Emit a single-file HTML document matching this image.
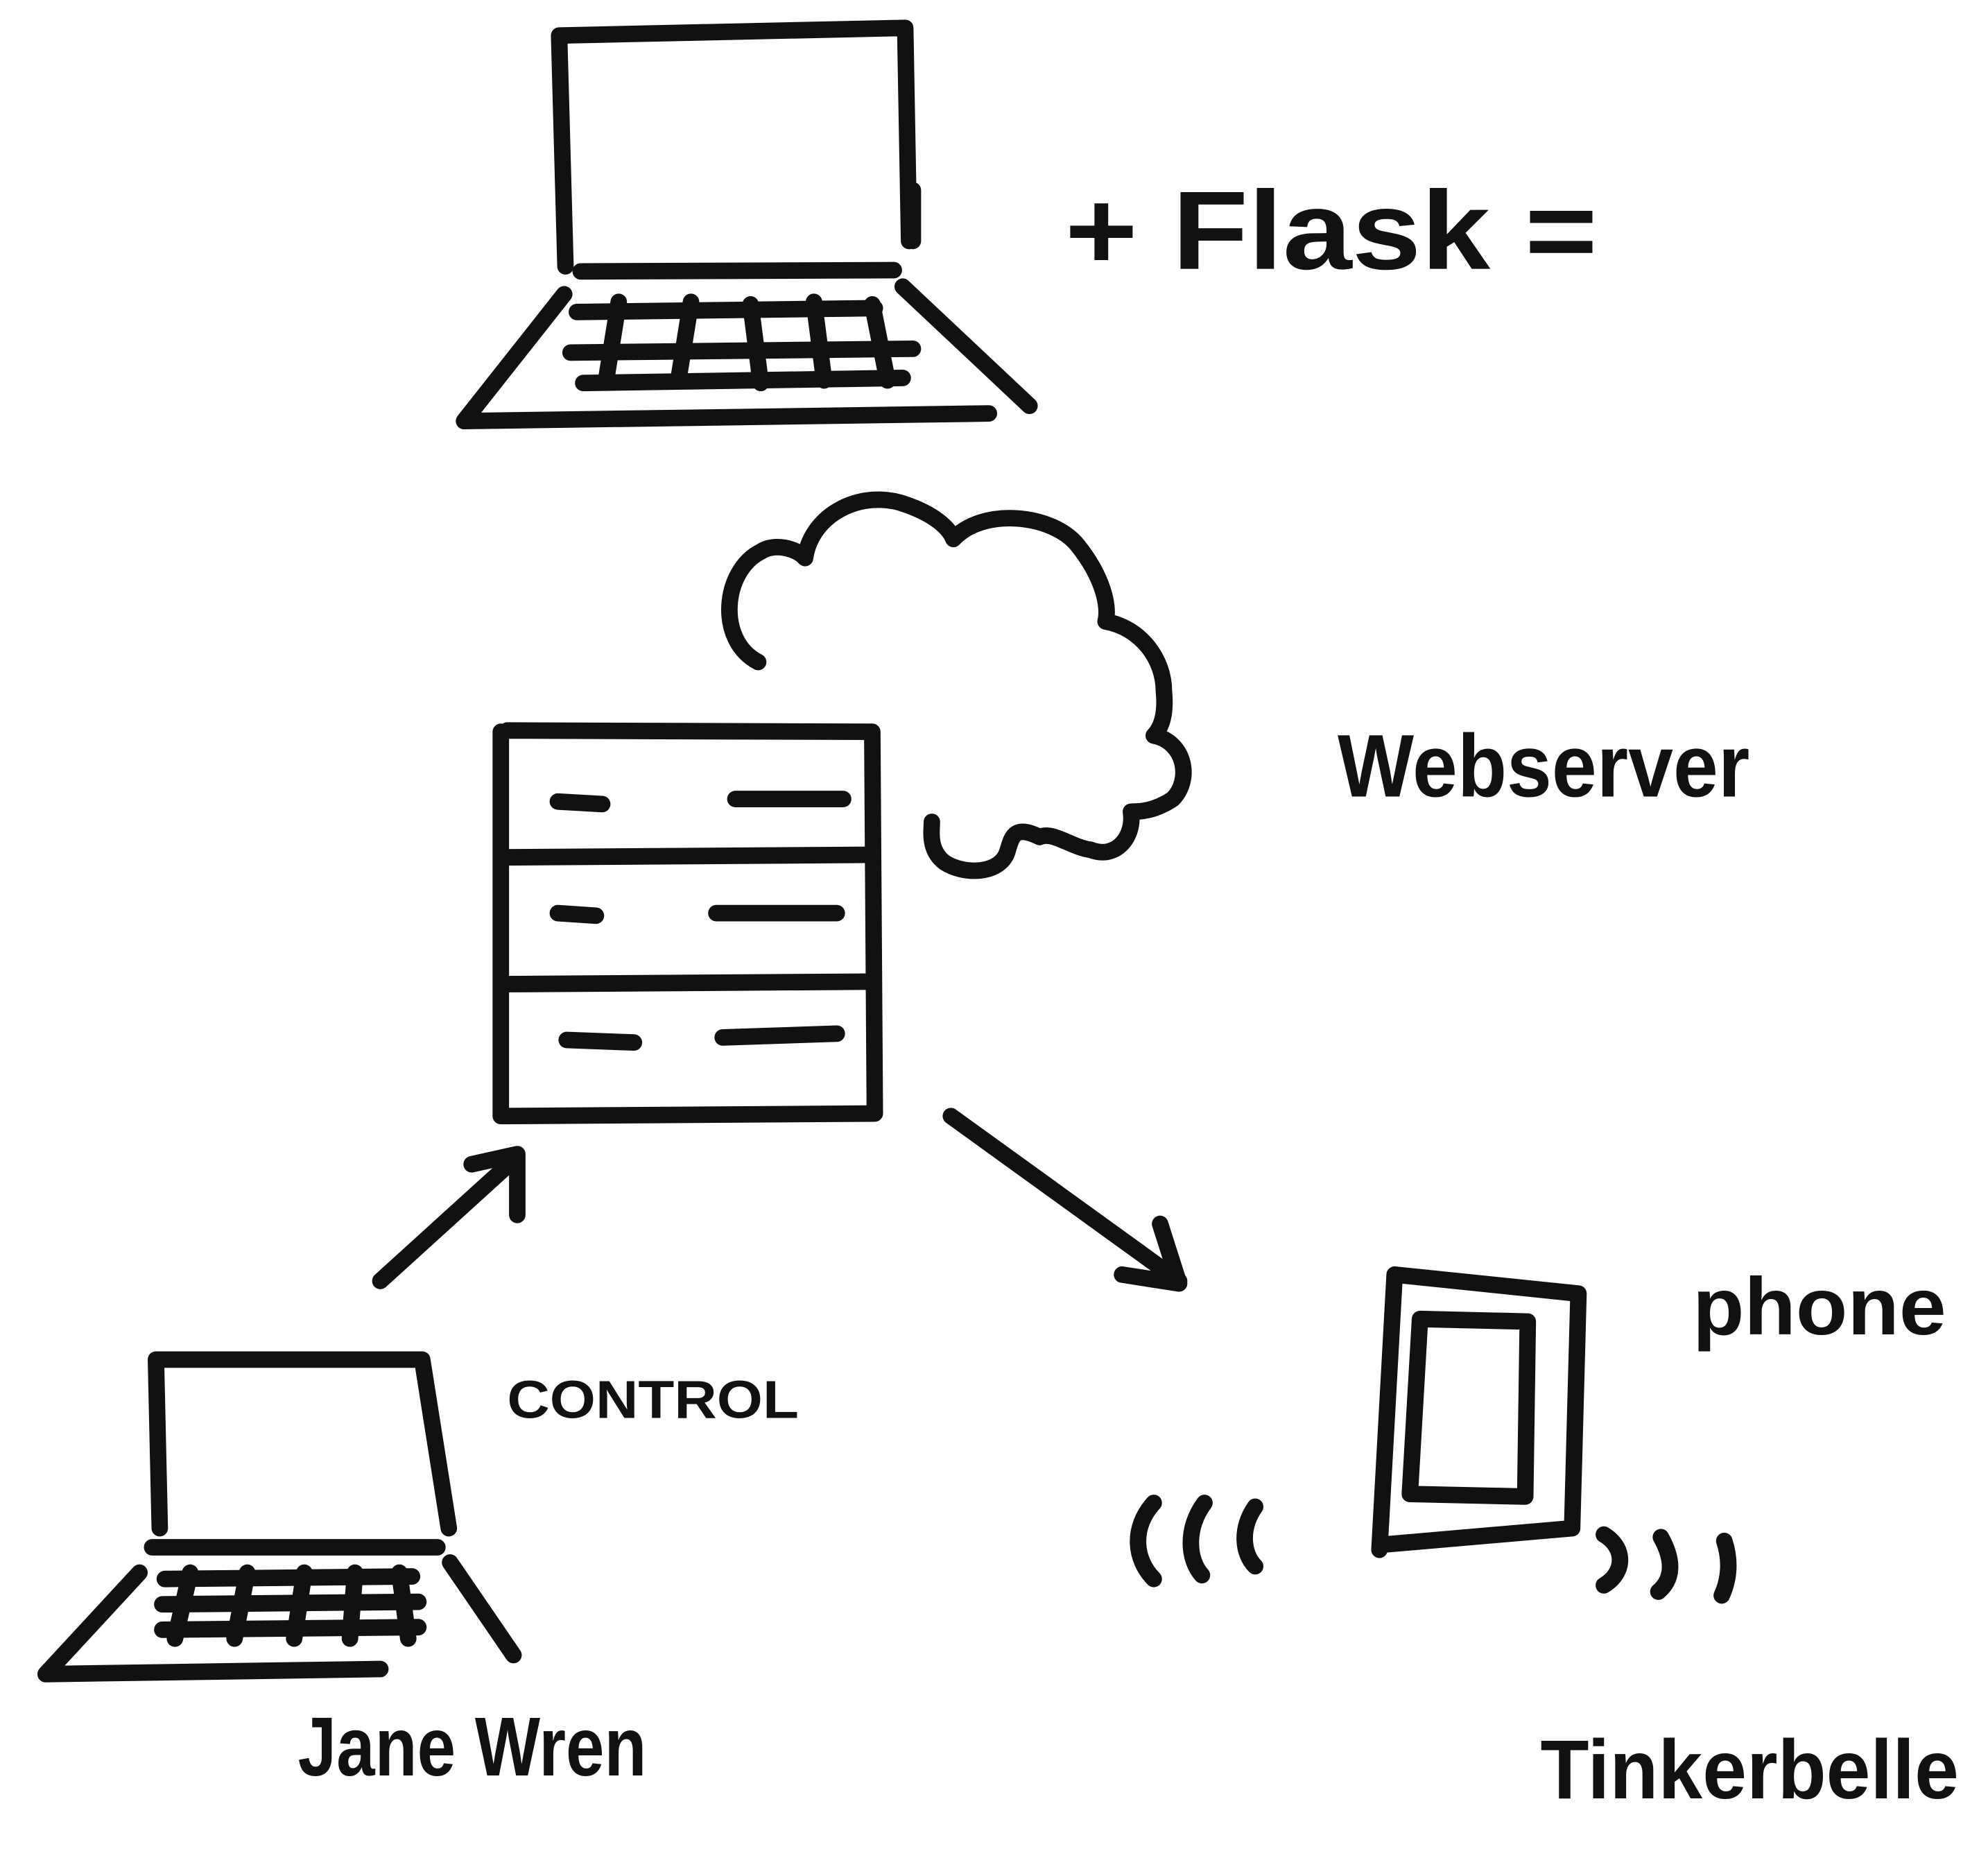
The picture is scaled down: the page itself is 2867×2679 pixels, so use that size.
<!DOCTYPE html>
<html><head><meta charset="utf-8"><style>
html,body{margin:0;padding:0;background:#fff;}
svg{display:block;}
text{font-family:"Liberation Sans Narrow","Liberation Sans",sans-serif;font-weight:bold;fill:#111;}
</style></head><body>
<svg width="2867" height="2679" viewBox="0 0 1568 1465" preserveAspectRatio="none" xmlns="http://www.w3.org/2000/svg">
<rect width="1568" height="1465" fill="#fff"/>
<g fill="none" stroke="#111" stroke-width="13" stroke-linecap="round" stroke-linejoin="round">
<path d="M446 210 L441 28 L714 22 L717 190"/>
<path d="M720 150 L720 190"/>
<path d="M458 214 L705 213"/>
<path d="M445 232 L366 332 L780 326"/>
<path d="M712 226 L812 320"/>
<path d="M455 246 L690 243"/>
<path d="M450 278 L720 275"/>
<path d="M460 302 L712 298"/>
<path d="M488 238 L478 300 M545 238 L535 300 M592 240 L600 302 M642 238 L650 300 M688 240 L700 300"/>
<path d="M598 522 C565 505 570 450 600 435 C610 428 628 432 635 440 C640 405 680 385 715 398 C735 405 748 415 752 425 C775 400 830 405 850 430 C870 455 875 478 872 490 C900 495 918 520 918 545 C920 565 915 575 910 580 C935 585 940 615 925 630 C910 640 898 640 892 640 C895 660 880 678 860 670 C845 668 830 655 820 660 C800 650 798 660 795 670 C790 690 760 690 745 680 C732 670 735 655 735 648"/>
<path d="M395 577 L395 880 L690 878 L688 577 L400 576"/>
<path d="M398 676 L688 674"/>
<path d="M398 776 L688 774"/>
<path d="M440 632 L475 634 M580 630 L665 630 M440 720 L470 722 M565 720 L660 720 M447 820 L500 822 M570 818 L660 815"/>
<path d="M300 1010 L408 912 M372 918 L408 910 L408 958"/>
<path d="M750 880 L930 1010 M885 1005 L930 1012 L915 965"/>
<path d="M126 1205 L123 1072 L333 1072 L354 1205"/>
<path d="M120 1220 L345 1220"/>
<path d="M110 1240 L36 1320 L300 1316"/>
<path d="M355 1232 L405 1305"/>
<path d="M130 1245 L325 1243 M128 1265 L330 1263 M128 1285 L330 1283"/>
<path d="M150 1240 L138 1292 M195 1240 L185 1292 M240 1240 L232 1292 M280 1240 L276 1292 M315 1240 L322 1292"/>
<path d="M1088 1222 L1100 1005 L1245 1020 L1240 1205 L1090 1218"/>
<path d="M1120 1040 L1205 1042 L1203 1180 L1112 1178 Z"/>
<path d="M910 1185 C892 1205 895 1230 910 1245"/>
<path d="M950 1185 C935 1205 937 1230 948 1242"/>
<path d="M990 1188 C978 1205 980 1225 990 1235"/>
<path d="M1265 1210 C1282 1220 1282 1240 1265 1250"/>
<path d="M1310 1212 C1320 1230 1320 1245 1308 1255"/>
<path d="M1360 1215 C1365 1230 1364 1245 1358 1258"/>
</g>
<text x="840" y="212" font-size="88" textLength="420" lengthAdjust="spacingAndGlyphs">+ Flask =</text>
<text x="1055" y="628" font-size="70" textLength="325" lengthAdjust="spacingAndGlyphs">Webserver</text>
<text x="400" y="1118" font-size="42" textLength="230" lengthAdjust="spacingAndGlyphs">CONTROL</text>
<text x="1335" y="1052" font-size="64" textLength="200" lengthAdjust="spacingAndGlyphs">phone</text>
<text x="235" y="1400" font-size="66" textLength="275" lengthAdjust="spacingAndGlyphs">Jane Wren</text>
<text x="1215" y="1418" font-size="66" textLength="330" lengthAdjust="spacingAndGlyphs">Tinkerbelle</text>
</svg>
</body></html>
